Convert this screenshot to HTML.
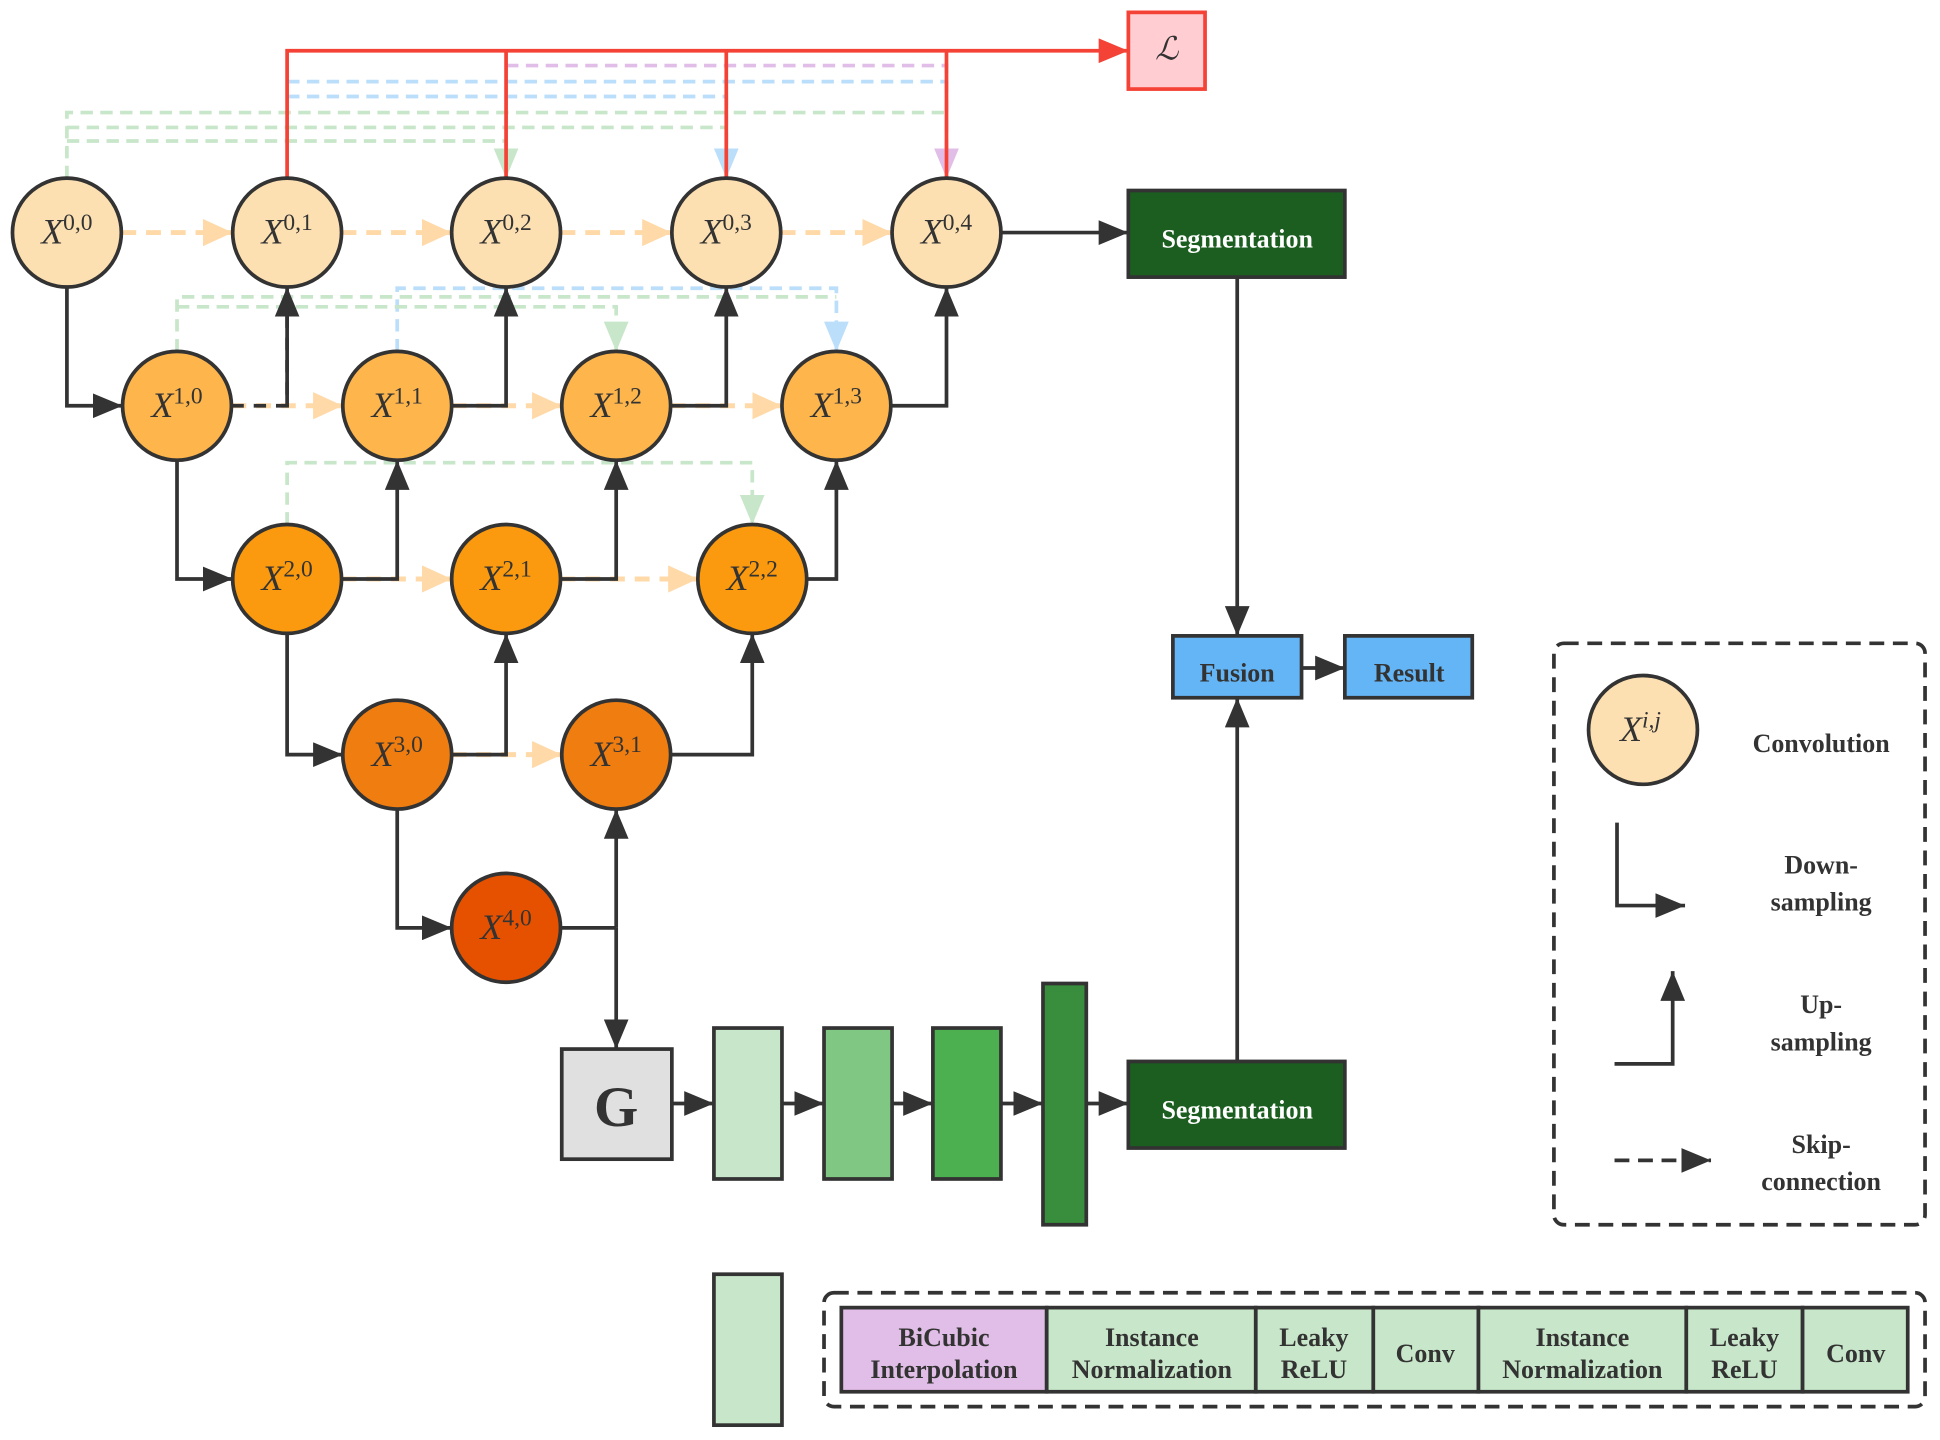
<!DOCTYPE html>
<html><head><meta charset="utf-8"><style>
html,body{margin:0;padding:0;background:#fff;}
svg{display:block;}
text{font-family:"Liberation Serif",serif;}
.t{font-weight:bold;font-size:21px;fill:#333;text-anchor:middle;}
.w{font-weight:bold;font-size:21px;fill:#fff;text-anchor:middle;}
.n{font-style:italic;font-size:29px;fill:#333;text-anchor:middle;}
</style></head><body>
<svg width="1940" height="1440" viewBox="0 0 1568 1164" xmlns="http://www.w3.org/2000/svg">
<defs>
<marker id="abk" markerWidth="24" markerHeight="20" refX="24" refY="10" orient="auto" markerUnits="userSpaceOnUse"><path d="M0,0 L24,10 L0,20z" fill="#333"/></marker>
<marker id="ar" markerWidth="24" markerHeight="20" refX="24" refY="10" orient="auto" markerUnits="userSpaceOnUse"><path d="M0,0 L24,10 L0,20z" fill="#f44336"/></marker>
<marker id="ao" markerWidth="24" markerHeight="22" refX="24" refY="11" orient="auto" markerUnits="userSpaceOnUse"><path d="M0,0 L24,11 L0,22z" fill="#ffd9a8"/></marker>
<marker id="ag" markerWidth="24" markerHeight="20" refX="24" refY="10" orient="auto" markerUnits="userSpaceOnUse"><path d="M0,0 L24,10 L0,20z" fill="#c8e6c9"/></marker>
<marker id="abl" markerWidth="24" markerHeight="20" refX="24" refY="10" orient="auto" markerUnits="userSpaceOnUse"><path d="M0,0 L24,10 L0,20z" fill="#bbdefb"/></marker>
<marker id="ap" markerWidth="24" markerHeight="20" refX="24" refY="10" orient="auto" markerUnits="userSpaceOnUse"><path d="M0,0 L24,10 L0,20z" fill="#e1bee7"/></marker>
</defs>
<g fill="none" stroke-width="3" stroke-dasharray="10,6">
<path d="M409,53 H765 V144" stroke="#e1bee7" marker-end="url(#ap)"/>
<path d="M232,66 H765" stroke="#bbdefb"/>
<path d="M232,78 H587 V144" stroke="#bbdefb" marker-end="url(#abl)"/>
<path d="M54,144 V91 H765" stroke="#c8e6c9"/>
<path d="M54,103 H587" stroke="#c8e6c9"/>
<path d="M54,114 H409 V144" stroke="#c8e6c9" marker-end="url(#ag)"/>
<path d="M321,284 V233 H676 V284" stroke="#bbdefb" marker-end="url(#abl)"/>
<path d="M143,284 V240 H676" stroke="#c8e6c9"/>
<path d="M143,248 H498 V284" stroke="#c8e6c9" marker-end="url(#ag)"/>
<path d="M232,424 V374 H608 V424" stroke="#c8e6c9" marker-end="url(#ag)"/>
<g stroke="#ffd9a8" stroke-width="4" stroke-dasharray="12,8">
<path d="M98,188 H188" marker-end="url(#ao)"/><path d="M276,188 H365" marker-end="url(#ao)"/><path d="M453,188 H543" marker-end="url(#ao)"/><path d="M631,188 H721" marker-end="url(#ao)"/>
<path d="M187,328 H277" marker-end="url(#ao)"/><path d="M365,328 H454" marker-end="url(#ao)"/><path d="M542,328 H632" marker-end="url(#ao)"/>
<path d="M276,468 H365" marker-end="url(#ao)"/><path d="M453,468 H564" marker-end="url(#ao)"/>
<path d="M365,610 H454" marker-end="url(#ao)"/>
</g>
</g>
<g fill="none" stroke="#f44336" stroke-width="3">
<path d="M232,144 V41 H912" marker-end="url(#ar)"/>
<path d="M409,144 V41 M587,144 V41 M765,144 V41"/>
</g>
<rect x="912" y="10" width="62" height="62" fill="#ffcdd2" stroke="#f44336" stroke-width="3"/>
<text x="943" y="48" font-size="26" font-style="italic" text-anchor="middle" fill="#333">ℒ</text>
<g fill="none" stroke="#333" stroke-width="3">
<path d="M54,232 V328 H99" marker-end="url(#abk)"/>
<path d="M143,372 V468 H188" marker-end="url(#abk)"/>
<path d="M232,512 V610 H277" marker-end="url(#abk)"/>
<path d="M321,654 V750 H365" marker-end="url(#abk)"/>
<path d="M187,328 H232 V232" stroke-dasharray="10,8" />
<path d="M232,328 V232" marker-end="url(#abk)"/>
<path d="M365,328 H409 V232" marker-end="url(#abk)"/>
<path d="M542,328 H587 V232" marker-end="url(#abk)"/>
<path d="M720,328 H765 V232" marker-end="url(#abk)"/>
<path d="M276,468 H321 V372" marker-end="url(#abk)"/>
<path d="M453,468 H498 V372" marker-end="url(#abk)"/>
<path d="M652,468 H676 V372" marker-end="url(#abk)"/>
<path d="M365,610 H409 V512" marker-end="url(#abk)"/>
<path d="M542,610 H608 V512" marker-end="url(#abk)"/>
<path d="M453,750 H498"/>
<path d="M498,750 V654" marker-end="url(#abk)"/>
<path d="M498,750 V848" marker-end="url(#abk)"/>
<path d="M809,188 H912" marker-end="url(#abk)"/>
<path d="M1000,224 V514" marker-end="url(#abk)"/>
<path d="M1000,858 V564" marker-end="url(#abk)"/>
<path d="M1052,540 H1087" marker-end="url(#abk)"/>
<path d="M543,892 H577" marker-end="url(#abk)"/>
<path d="M632,892 H666" marker-end="url(#abk)"/>
<path d="M721,892 H754" marker-end="url(#abk)"/>
<path d="M809,892 H843" marker-end="url(#abk)"/>
<path d="M878,892 H912" marker-end="url(#abk)"/>
</g>
<g stroke="#333" stroke-width="3">
<circle cx="54" cy="188" r="44" fill="#fde0b2"/><circle cx="232" cy="188" r="44" fill="#fde0b2"/><circle cx="409" cy="188" r="44" fill="#fde0b2"/><circle cx="587" cy="188" r="44" fill="#fde0b2"/><circle cx="765" cy="188" r="44" fill="#fde0b2"/>
<circle cx="143" cy="328" r="44" fill="#fdb54c"/><circle cx="321" cy="328" r="44" fill="#fdb54c"/><circle cx="498" cy="328" r="44" fill="#fdb54c"/><circle cx="676" cy="328" r="44" fill="#fdb54c"/>
<circle cx="232" cy="468" r="44" fill="#fb9a0e"/><circle cx="409" cy="468" r="44" fill="#fb9a0e"/><circle cx="608" cy="468" r="44" fill="#fb9a0e"/>
<circle cx="321" cy="610" r="44" fill="#f07d10"/><circle cx="498" cy="610" r="44" fill="#f07d10"/>
<circle cx="409" cy="750" r="44" fill="#e65100"/>
<circle cx="1328" cy="590" r="44" fill="#fde0b2"/>
</g>
<g class="n">
<text x="54" y="197">X<tspan font-size="19" font-style="normal" dy="-11">0,0</tspan></text>
<text x="232" y="197">X<tspan font-size="19" font-style="normal" dy="-11">0,1</tspan></text>
<text x="409" y="197">X<tspan font-size="19" font-style="normal" dy="-11">0,2</tspan></text>
<text x="587" y="197">X<tspan font-size="19" font-style="normal" dy="-11">0,3</tspan></text>
<text x="765" y="197">X<tspan font-size="19" font-style="normal" dy="-11">0,4</tspan></text>
<text x="143" y="337">X<tspan font-size="19" font-style="normal" dy="-11">1,0</tspan></text>
<text x="321" y="337">X<tspan font-size="19" font-style="normal" dy="-11">1,1</tspan></text>
<text x="498" y="337">X<tspan font-size="19" font-style="normal" dy="-11">1,2</tspan></text>
<text x="676" y="337">X<tspan font-size="19" font-style="normal" dy="-11">1,3</tspan></text>
<text x="232" y="477">X<tspan font-size="19" font-style="normal" dy="-11">2,0</tspan></text>
<text x="409" y="477">X<tspan font-size="19" font-style="normal" dy="-11">2,1</tspan></text>
<text x="608" y="477">X<tspan font-size="19" font-style="normal" dy="-11">2,2</tspan></text>
<text x="321" y="619">X<tspan font-size="19" font-style="normal" dy="-11">3,0</tspan></text>
<text x="498" y="619">X<tspan font-size="19" font-style="normal" dy="-11">3,1</tspan></text>
<text x="409" y="759">X<tspan font-size="19" font-style="normal" dy="-11">4,0</tspan></text>
<text x="1326" y="599">X<tspan font-size="19" dy="-11">i,j</tspan></text>
</g>
<g stroke="#333" stroke-width="3">
<rect x="912" y="154" width="175" height="70" fill="#1b5e20"/>
<rect x="912" y="858" width="175" height="70" fill="#1b5e20"/>
<rect x="948" y="514" width="104" height="50" fill="#64b5f6"/>
<rect x="1087" y="514" width="103" height="50" fill="#64b5f6"/>
<rect x="454" y="848" width="89" height="89" fill="#e0e0e0"/>
<rect x="577" y="831" width="55" height="122" fill="#c8e6c9"/>
<rect x="666" y="831" width="55" height="122" fill="#81c784"/>
<rect x="754" y="831" width="55" height="122" fill="#4caf50"/>
<rect x="843" y="795" width="35" height="195" fill="#388e3c"/>
<rect x="577" y="1030" width="55" height="122" fill="#c8e6c9"/>
<rect x="680" y="1057" width="166" height="68" fill="#e1bee7"/>
<rect x="846" y="1057" width="169" height="68" fill="#c8e6c9"/>
<rect x="1015" y="1057" width="95" height="68" fill="#c8e6c9"/>
<rect x="1110" y="1057" width="85" height="68" fill="#c8e6c9"/>
<rect x="1195" y="1057" width="168" height="68" fill="#c8e6c9"/>
<rect x="1363" y="1057" width="94" height="68" fill="#c8e6c9"/>
<rect x="1457" y="1057" width="85" height="68" fill="#c8e6c9"/>
</g>
<g fill="none" stroke="#333" stroke-width="3" stroke-dasharray="12,7">
<rect x="1256" y="520" width="300" height="470" rx="8"/>
<rect x="666" y="1045" width="890" height="92" rx="8"/>
<path d="M1305,938 H1383" marker-end="url(#abk)"/>
</g>
<g fill="none" stroke="#333" stroke-width="3">
<path d="M1307,665 V732 H1362" marker-end="url(#abk)"/>
<path d="M1305,860 H1352 V785" marker-end="url(#abk)"/>
</g>
<text class="w" x="1000" y="200">Segmentation</text>
<text class="w" x="1000" y="904">Segmentation</text>
<text class="t" x="1000" y="551">Fusion</text>
<text class="t" x="1139" y="551">Result</text>
<text x="498" y="910" text-anchor="middle" font-weight="bold" font-size="46" fill="#333">G</text>
<text class="t" x="1472" y="608">Convolution</text>
<text class="t" x="1472" y="706">Down-</text><text class="t" x="1472" y="736">sampling</text>
<text class="t" x="1472" y="819">Up-</text><text class="t" x="1472" y="849">sampling</text>
<text class="t" x="1472" y="932">Skip-</text><text class="t" x="1472" y="962">connection</text>
<g class="t" font-size="19">
<text x="763" y="1088">BiCubic</text><text x="763" y="1114">Interpolation</text>
<text x="931" y="1088">Instance</text><text x="931" y="1114">Normalization</text>
<text x="1062" y="1088">Leaky</text><text x="1062" y="1114">ReLU</text>
<text x="1152" y="1101">Conv</text>
<text x="1279" y="1088">Instance</text><text x="1279" y="1114">Normalization</text>
<text x="1410" y="1088">Leaky</text><text x="1410" y="1114">ReLU</text>
<text x="1500" y="1101">Conv</text>
</g>
</svg>
</body></html>
